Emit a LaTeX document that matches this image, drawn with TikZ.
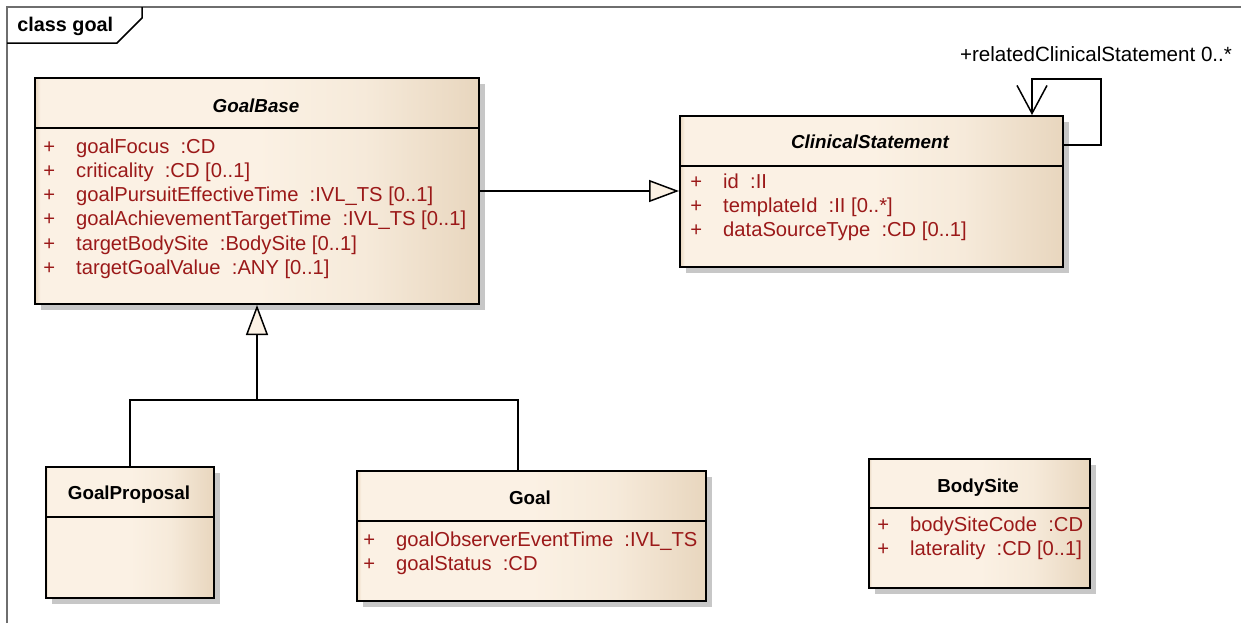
\documentclass[tikz,border=0pt]{standalone}
\usepackage{fontspec}
\setmainfont{Liberation Sans}
\usepackage{tikz}
\usetikzlibrary{arrows.meta}
\usetikzlibrary{shadows}

\definecolor{umllight}{RGB}{251,241,228}
\definecolor{umlmid}{RGB}{246,234,218}
\definecolor{umldark}{RGB}{232,214,190}
\definecolor{attrred}{RGB}{155,25,25}
\definecolor{framegray}{RGB}{110,110,110}

\pgfdeclarehorizontalshading{classfill}{100bp}{color(0bp)=(umldark); color(25bp)=(umldark);
  color(25.6bp)=(umllight); color(50bp)=(umllight); color(62bp)=(umlmid); color(75bp)=(umldark); color(100bp)=(umldark)}

\tikzset{
  classbox/.style={draw, line width=1pt, anchor=north west, inner sep=0pt,
    shading=classfill,
    drop shadow={shadow xshift=3pt, shadow yshift=-3pt, fill=black!22, opacity=1}},
  classname/.style={font=\fontsize{9.4}{11}\selectfont\bfseries, anchor=base, inner sep=0pt},
  abstractname/.style={classname, font=\fontsize{9.4}{11}\selectfont\bfseries\itshape},
  attrlist/.style={font=\fontsize{10.1}{12.15}\selectfont, text=attrred, anchor=base west, inner sep=0pt},
  genline/.style={line width=0.75pt, -{Triangle[length=15pt, width=11pt, fill=umllight]}},
  assocline/.style={line width=0.75pt, -{Straight Barb[length=14pt, width=15pt]}}
}

\newcommand{\attrrows}[1]{\begin{tabular}[t]{@{}l@{\hspace{10.5pt}}l@{}}#1\end{tabular}}

\begin{document}
\begin{tikzpicture}[x=0.5pt, y=-0.5pt]
\useasboundingbox (0,0) rectangle (1241,623);

%frame
\draw[framegray, line width=0.75pt] (7,623) -- (7,7) -- (1241,7);
\draw[line width=0.75pt] (7,43) -- (117,43) -- (142,18) -- (142,7);
\node[font=\fontsize{9.9}{11}\selectfont\bfseries, anchor=base west, inner sep=0pt] (framelabel) at (17,31) {class goal};

%GoalBase
\node[classbox, minimum width=222pt, minimum height=113pt] (goalbase) at (34,77) {};
\draw[line width=1pt] (34,128) -- (478,128);
\node[abstractname] (goalbasename) at (256,112) {GoalBase};
\node[attrlist] (goalbaseattr) at (43,153) {\attrrows{
  + & goalFocus~ :CD\\
  + & criticality~ :CD [0..1]\\
  + & goalPursuitEffectiveTime~ :IVL\_TS [0..1]\\
  + & goalAchievementTargetTime~ :IVL\_TS [0..1]\\
  + & targetBodySite~ :BodySite [0..1]\\
  + & targetGoalValue~ :ANY [0..1]}};

%ClinicalStatement
\node[classbox, minimum width=191.5pt, minimum height=75.5pt] (clinical) at (679,115) {};
\draw[line width=1pt] (679,166) -- (1062,166);
\node[abstractname] (clinicalname) at (870,148) {ClinicalStatement};
\node[attrlist] (clinicalattr) at (690,188) {\attrrows{
  + & id~ :II\\
  + & templateId~ :II [0..*]\\
  + & dataSourceType~ :CD [0..1]}};

%GoalProposal
\node[classbox, minimum width=84pt, minimum height=65.5pt] (proposal) at (45,466) {};
\draw[line width=1pt] (45,517) -- (213,517);
\node[classname] (proposalname) at (129,499) {GoalProposal};

%Goal
\node[classbox, minimum width=174.5pt, minimum height=65pt] (goal) at (356,470) {};
\draw[line width=1pt] (356,521) -- (705,521);
\node[classname] (goalname) at (530,504) {Goal};
\node[attrlist] (goalattr) at (363,546) {\attrrows{
  + & goalObserverEventTime~ :IVL\_TS\\
  + & goalStatus~ :CD}};

%BodySite
\node[classbox, minimum width=110.5pt, minimum height=64.5pt] (bodysite) at (868,458) {};
\draw[line width=1pt] (868,508) -- (1089,508);
\node[classname] (bodysitename) at (978,492) {BodySite};
\node[attrlist] (bodysiteattr) at (877,531) {\attrrows{
  + & bodySiteCode~ :CD\\
  + & laterality~ :CD [0..1]}};

%generalizations
\draw[genline] (goalbase.east) -- (goalbase.east -| clinical.west);
\coordinate (genjoin) at (257,400);
\draw[genline] (proposal.north) |- (genjoin) -- (genjoin |- goalbase.south);
\draw[line width=0.75pt] (518,0 |- goal.north) |- (genjoin);

%self association
\draw[assocline] (clinical.east |- 0,145) -- (1101,145) -- (1101,79) -- (1032,79) -- (1032,0 |- clinical.north);
\node[font=\fontsize{10.3}{12}\selectfont, inner sep=0pt] (rolelabel) at (1096,54) {+relatedClinicalStatement 0..*};

\end{tikzpicture}
\end{document}
